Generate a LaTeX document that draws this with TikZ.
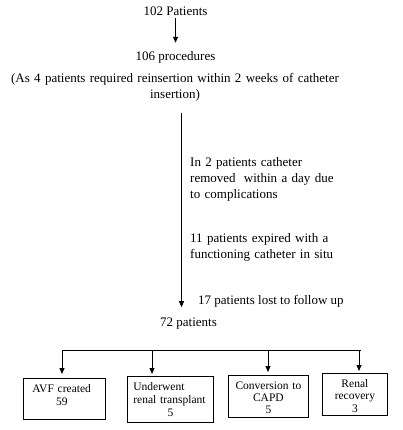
\documentclass[tikz,border=0pt]{standalone}
\usepackage{fontspec}
\setmainfont{Liberation Serif}
\usetikzlibrary{arrows.meta}
\begin{document}
\begin{tikzpicture}[x=1pt,y=-1pt,
  txt/.style={inner sep=0pt, font=\fontsize{13}{16}\selectfont},
  boxtxt/.style={draw, line width=0.8pt, inner sep=0pt, text height=8pt, anchor=north west},
  arr/.style={line width=0.8pt, -{Triangle[length=6pt,width=5pt]}},
  ln/.style={line width=0.8pt}]
\useasboundingbox (0,0) rectangle (402,430);
% top
\node[txt, anchor=base] (p102) at (175.5,16) {102 Patients};
\node[txt, anchor=base] (proc) at (175.5,61) {106 procedures};
\node[txt, anchor=base, text width=340pt, align=center] (note) at (175,83)
  {(As 4 patients required reinsertion within 2 weeks of catheter\\insertion)};
\draw[arr, shorten <=2pt, shorten >=9pt] (p102.south) -- (proc.north);
% side texts
\node[txt, anchor=base west, text width=180pt, align=left] (rem) at (190,166.5)
  {In 2 patients catheter\\removed\hspace{8.3pt}within a day due\\to complications};
\node[txt, anchor=base west, text width=180pt, align=left, font=\fontsize{13}{16.5}\selectfont] (exp) at (190,242.3)
  {11 patients expired with a\\functioning catheter in situ};
\node[txt, anchor=base west] (lost) at (198,304.3) {17 patients lost to follow up};
\node[txt, anchor=base west] (p72) at (160,326.5) {72 patients};
\coordinate (ls) at (181.5,113);
\draw[arr, shorten >=10.5pt] (ls) -- (ls |- p72.north);
% boxes
\node[boxtxt, minimum width=82pt, minimum height=41pt, text width=64pt, align=left,
  text depth=21.6pt, font=\fontsize{11.5}{13.3}\selectfont] (b1) at (23,378)
  {AVF created\\\makebox[59pt]{59}};
\node[boxtxt, minimum width=86pt, minimum height=46pt, text width=74pt, align=left,
  text depth=26pt, font=\fontsize{11.5}{13}\selectfont] (b2) at (127,376)
  {Underwent\\renal transplant\\\makebox[\linewidth]{5}};
\node[boxtxt, minimum width=80pt, minimum height=42pt, text width=78pt, align=center,
  text depth=21.4pt, font=\fontsize{11.5}{11.7}\selectfont] (b3) at (228,375)
  {Conversion to\\CAPD\\5};
\node[boxtxt, minimum width=65pt, minimum height=42pt, text width=63pt, align=center,
  text depth=21.4pt, font=\fontsize{11.5}{12.2}\selectfont] (b4) at (322,373)
  {Renal\\recovery\\3};
% bus
\coordinate (bA) at (62,350.5);
\coordinate (bB) at (152,350.5);
\coordinate (bC) at (268,350.5);
\coordinate (bD) at (359,350.5);
\coordinate (bE) at (360.5,350.5);
\draw[ln] (bA) -- (bE);
\draw[arr, shorten >=4pt] (bA) -- (bA |- b1.north);
\draw[arr, shorten >=2pt] (bB) -- (bB |- b2.north);
\draw[arr, shorten >=3pt] (bC) -- (bC |- b3.north);
\draw[arr, shorten >=2pt] (bD) -- (bD |- b4.north);
\end{tikzpicture}
\end{document}
